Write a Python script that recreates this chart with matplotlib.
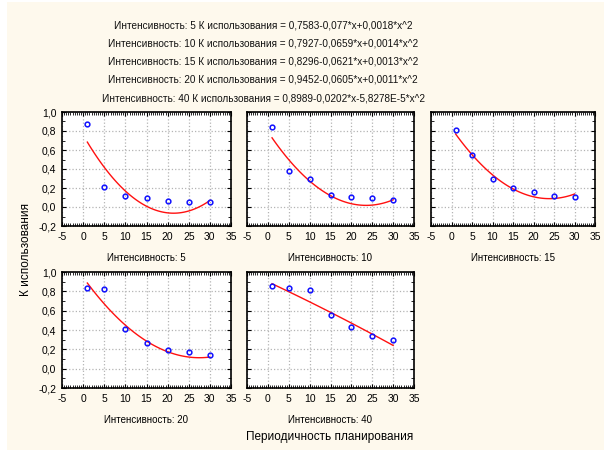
import numpy as np
import matplotlib
matplotlib.use("Agg")
import matplotlib.pyplot as plt
from matplotlib.ticker import MultipleLocator, FuncFormatter
from matplotlib.patches import Rectangle

plt.rcParams['font.family'] = ['Liberation Sans', 'DejaVu Sans']

# data
periods = [1, 5, 10, 15, 20, 25, 30]
intensities = [5, 10, 15, 20, 40]
k_use = {
    5: [0.869, 0.214, 0.117, 0.090, 0.062, 0.048, 0.048],
    10: [0.841, 0.379, 0.297, 0.131, 0.103, 0.090, 0.076],
    15: [0.814, 0.548, 0.297, 0.203, 0.162, 0.117, 0.103],
    20: [0.838, 0.825, 0.409, 0.268, 0.196, 0.172, 0.144],
    40: [0.852, 0.838, 0.811, 0.560, 0.433, 0.337, 0.296],
}
# fitted polynomial coefficients (a, b, c) from the title
coef = {
    5: (0.7583, -0.077, 0.0018),
    10: (0.7927, -0.0659, 0.0014),
    15: (0.8296, -0.0621, 0.0013),
    20: (0.9452, -0.0605, 0.0011),
    40: (0.8989, -0.0202, -5.8278e-5),
}
title_lines = [
    "Интенсивность: 5 К использования = 0,7583-0,077*x+0,0018*x^2",
    "Интенсивность: 10 К использования = 0,7927-0,0659*x+0,0014*x^2",
    "Интенсивность: 15 К использования = 0,8296-0,0621*x+0,0013*x^2",
    "Интенсивность: 20 К использования = 0,9452-0,0605*x+0,0011*x^2",
    "Интенсивность: 40 К использования = 0,8989-0,0202*x-5,8278E-5*x^2",
]

W, H = 604, 450
fig = plt.figure(figsize=(W / 100, H / 100), dpi=100, facecolor='white')
fig.patches.append(Rectangle((7 / W, 0), 1, 448 / H, transform=fig.transFigure,
                             facecolor='#fef9ed', edgecolor='none', zorder=-10))

for i, line in enumerate(title_lines):
    fig.text(263 / W, 1 - (25 + 18.3 * i) / H, line, ha='center', va='center',
             fontsize=7.2, color='#111111')

# panel boxes in pixels: left, right, top, bottom
boxes = [(62, 231, 112, 226), (247, 414, 112, 226), (431, 595, 112, 226),
         (62, 231, 272, 388), (247, 414, 272, 388)]

comma = FuncFormatter(lambda v, p: ('%.1f' % v).replace('.', ','))
intfmt = FuncFormatter(lambda v, p: '%d' % round(v))
xs = np.linspace(1, 30, 100)

for idx, (inten, (l, r, t, b)) in enumerate(zip(intensities, boxes)):
    ax = fig.add_axes([l / W, 1 - b / H, (r - l) / W, (b - t) / H])
    ax.set_facecolor('white')
    ax.set_xlim(-5, 35)
    ax.set_ylim(-0.2, 1.0)
    ax.xaxis.set_major_locator(MultipleLocator(5))
    ax.xaxis.set_minor_locator(MultipleLocator(0.5))
    ax.yaxis.set_major_locator(MultipleLocator(0.2))
    ax.yaxis.set_minor_locator(MultipleLocator(0.1))
    ax.xaxis.set_major_formatter(intfmt)
    ax.yaxis.set_major_formatter(comma)
    ax.grid(True, which='major', color='#b4b4b4', linestyle=':', linewidth=0.9)
    ax.set_axisbelow(True)
    ax.tick_params(which='both', direction='in', top=True, right=True,
                   labelsize=7.5, colors='black', pad=4)
    ax.tick_params(which='major', length=3, width=0.8)
    ax.tick_params(which='minor', length=2, width=0.6)
    if l != 62:
        ax.tick_params(labelleft=False)
    for s in ax.spines.values():
        s.set_linewidth(1.2)

    a, bb, c = coef[inten]
    ax.plot(xs, a + bb * xs + c * xs ** 2, color='#ff1010', linewidth=1.0)
    ax.plot(periods, k_use[inten], linestyle='none', marker='o', markersize=3.4,
            markerfacecolor='none', markeredgecolor='#1010ff', markeredgewidth=1.1)
    ax.set_xlabel("Интенсивность: %d" % inten, fontsize=7, labelpad=8)

fig.text(26 / W, 1 - 250 / H, "К использования", rotation=90, ha='center',
         va='center', fontsize=8.5)
fig.text(330 / W, 1 - 437 / H, "Периодичность планирования", ha='center',
         va='center', fontsize=8.5)

fig.savefig("out.png", dpi=100, facecolor=fig.get_facecolor())
